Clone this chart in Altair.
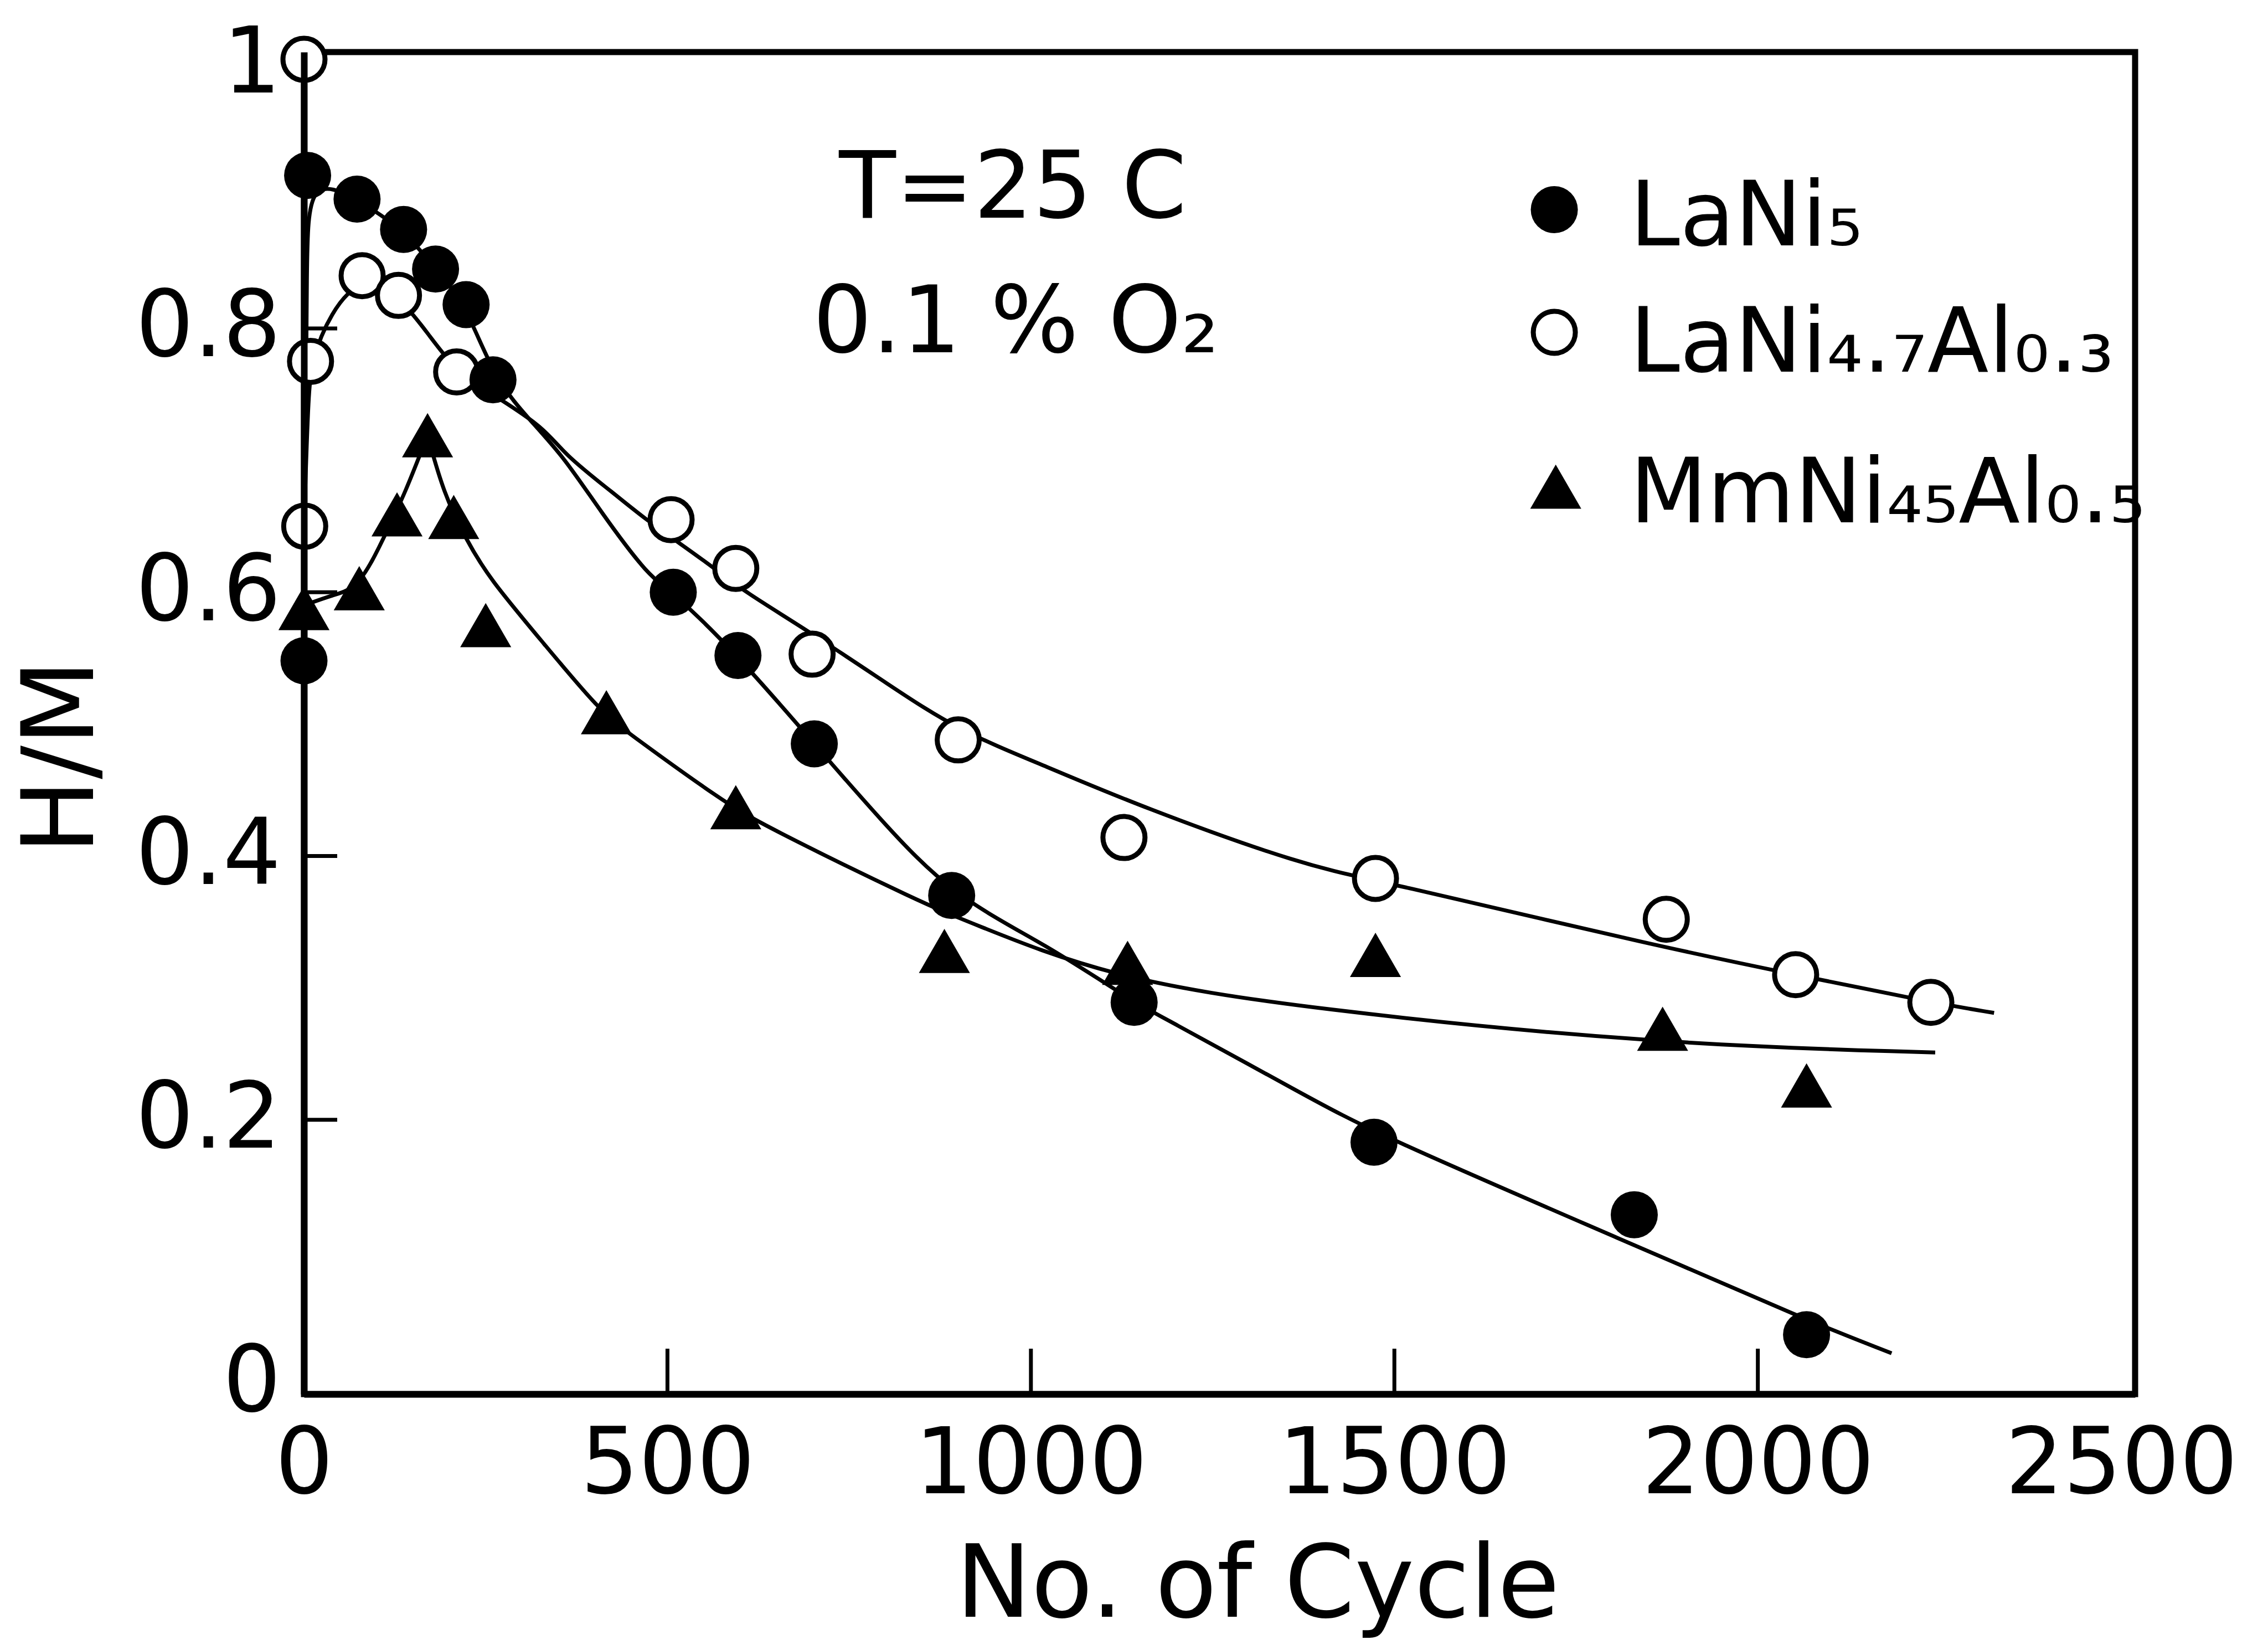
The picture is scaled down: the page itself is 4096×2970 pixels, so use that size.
import altair as alt
import pandas as pd

# ---------------- data ----------------
# measured points
lani5_x = [0, 5, 73, 137, 181, 223, 260, 508, 597, 702, 891, 1142, 1472, 1830, 2067]
lani5_y = [0.548, 0.916, 0.898, 0.875, 0.845, 0.818, 0.761, 0.600, 0.552, 0.485, 0.370, 0.289, 0.183, 0.128, 0.037]

lani47_x = [0, 1, 9, 80, 130, 210, 505, 594, 699, 900, 1128, 1474, 1874, 2052, 2238]
lani47_y = [1.004, 0.650, 0.775, 0.840, 0.825, 0.767, 0.655, 0.618, 0.553, 0.488, 0.414, 0.383, 0.352, 0.310, 0.289]

mmni_x = [0, 76, 128, 170, 206, 250, 416, 594, 881, 1133, 1474, 1869, 2067]
mmni_y = [0.588, 0.603, 0.659, 0.719, 0.657, 0.575, 0.509, 0.437, 0.328, 0.319, 0.325, 0.269, 0.226]

# hand-drawn fitted curves (traced)
lani5_curve_x = [0, 2, 4, 6, 73, 137, 181, 223, 262, 315, 358, 407, 475, 508, 597, 702, 792, 891,
                 1021, 1142, 1174, 1379, 1472, 1826, 2067, 2184]
lani5_curve_y = [0.548, 0.70, 0.85, 0.916, 0.898, 0.875, 0.845, 0.818, 0.761, 0.728, 0.702, 0.662, 0.611,
                 0.600, 0.552, 0.485, 0.428, 0.370, 0.333, 0.289, 0.280, 0.218, 0.190, 0.106, 0.048, 0.023]

lani47_curve_x = [0, 3, 6, 10, 36, 80, 130, 172, 210, 265, 330, 359, 426, 468, 517, 565, 607, 690,
                  804, 900, 1021, 1148, 1379, 1474, 1874, 2052, 2238, 2325]
lani47_curve_y = [0.650, 0.70, 0.745, 0.775, 0.812, 0.840, 0.825, 0.795, 0.767, 0.748, 0.725, 0.704, 0.675,
                  0.656, 0.637, 0.618, 0.600, 0.572, 0.530, 0.495, 0.468, 0.438, 0.392, 0.382,
                  0.330, 0.310, 0.289, 0.281]

mmni_rise_x = [0, 40, 76, 113, 139, 170]
mmni_rise_y = [0.590, 0.598, 0.603, 0.645, 0.675, 0.719]
mmni_fall_x = [170, 192, 223, 254, 330, 407, 449, 575, 629, 855, 915, 1104, 1379, 1869, 2244]
mmni_fall_y = [0.719, 0.675, 0.640, 0.611, 0.561, 0.510, 0.492, 0.442, 0.424, 0.363, 0.350,
               0.308, 0.284, 0.257, 0.251]

# axes
x_ticks = [0, 500, 1000, 1500, 2000, 2500]
y_ticks = [0, 0.2, 0.4, 0.6, 0.8, 1]
x_inner_ticks = [500, 1000, 1500, 2000]
y_inner_ticks = [0.2, 0.4, 0.6, 0.8]

# legend entries
legend_names = ["LaNi₅", "LaNi₄.₇Al₀.₃", "MmNi₄₅Al₀.₅"]
legend_sym_x = [1720, 1720, 1722]
legend_sym_y = [0.890, 0.797, 0.680]
legend_text_x = [1824, 1824, 1824]
legend_text_y = [0.863, 0.767, 0.653]

# annotations
note_text = ["T=25 C", "0.1 % O₂"]
note_x = [736, 700]
note_y = [0.884, 0.782]

# ---------------- layout (0.874 of the reference) ----------------
W, H = 3307, 2423
PAD_L, PAD_T = 549, 94
PAD_R = 4096 - PAD_L - W
PAD_B = 2970 - PAD_T - H
FONT = "DejaVu Sans"

x_scale = alt.Scale(domain=[0, 2519], nice=False, zero=False)
y_scale = alt.Scale(domain=[-0.008, 1.0095], nice=False, zero=False)

x_enc = alt.X(
    "x:Q", scale=x_scale,
    axis=alt.Axis(values=x_ticks, format="d", title="No. of Cycle", grid=False,
                  ticks=False, tickSize=0, domainColor="black", domainWidth=12,
                  labelFontSize=165, labelColor="black", labelPadding=48, labelFlush=False,
                  labelOverlap=False, labelFont=FONT, labelLimit=0,
                  titleFont=FONT, titleFontSize=182, titleFontWeight="normal", titleColor="black",
                  titleX=1722, titleY=401, titleAlign="center", titleBaseline="alphabetic",
                  titleLimit=0, zindex=1),
)
y_enc = alt.Y(
    "y:Q", scale=y_scale,
    axis=alt.Axis(values=y_ticks, format="~g", title="H/M", grid=False,
                  ticks=False, tickSize=0, domainColor="black", domainWidth=12,
                  labelFontSize=165, labelColor="black", labelPadding=42, labelFlush=False,
                  labelOverlap=False, labelFont=FONT, labelLimit=0,
                  titleFont=FONT, titleFontSize=180, titleFontWeight="normal", titleColor="black",
                  titleAngle=270, titleX=-436, titleY=1272, titleAlign="center",
                  titleBaseline="middle", titleLimit=0, zindex=1),
)


def series(xs, ys, seg):
    return pd.DataFrame({"x": xs, "y": ys, "seg": seg, "ord": list(range(len(xs)))})


curves = pd.concat([
    series(lani5_curve_x, lani5_curve_y, "lani5"),
    series(lani47_curve_x, lani47_curve_y, "lani47"),
    series(mmni_rise_x, mmni_rise_y, "mmni_rise"),
    series(mmni_fall_x, mmni_fall_y, "mmni_fall"),
], ignore_index=True)

lines = alt.Chart(curves).mark_line(color="black", strokeWidth=7, interpolate="basis").encode(
    x=x_enc, y=y_enc, detail="seg:N", order="ord:Q")

yticks = alt.Chart(pd.DataFrame({"y": y_inner_ticks})).mark_rule(color="black", strokeWidth=7).encode(
    y=y_enc, x=alt.value(0), x2=alt.value(60))
xticks = alt.Chart(pd.DataFrame({"x": x_inner_ticks})).mark_rule(color="black", strokeWidth=7).encode(
    x=x_enc, y=alt.value(H), y2=alt.value(H - 82))

tri = alt.Chart(pd.DataFrame({"x": mmni_x, "y": mmni_y})).mark_point(
    shape="triangle-up", filled=True, color="black", size=8500, opacity=1).encode(x=x_enc, y=y_enc)
opn = alt.Chart(pd.DataFrame({"x": lani47_x, "y": lani47_y})).mark_point(
    shape="circle", fill="white", stroke="black", strokeWidth=9, size=5776, opacity=1,
    fillOpacity=1).encode(x=x_enc, y=y_enc)
fil = alt.Chart(pd.DataFrame({"x": lani5_x, "y": lani5_y})).mark_point(
    shape="circle", filled=True, color="black", size=7225, opacity=1).encode(x=x_enc, y=y_enc)

# legend symbols
leg_fil = alt.Chart(pd.DataFrame({"x": legend_sym_x[:1], "y": legend_sym_y[:1]})).mark_point(
    shape="circle", filled=True, color="black", size=7225, opacity=1).encode(x=x_enc, y=y_enc)
leg_opn = alt.Chart(pd.DataFrame({"x": legend_sym_x[1:2], "y": legend_sym_y[1:2]})).mark_point(
    shape="circle", fill="white", stroke="black", strokeWidth=9, size=5776, opacity=1,
    fillOpacity=1).encode(x=x_enc, y=y_enc)
leg_tri = alt.Chart(pd.DataFrame({"x": legend_sym_x[2:], "y": legend_sym_y[2:]})).mark_point(
    shape="triangle-up", filled=True, color="black", size=8500, opacity=1).encode(x=x_enc, y=y_enc)

leg_text = alt.Chart(pd.DataFrame({"x": legend_text_x, "y": legend_text_y, "t": legend_names})).mark_text(
    align="left", baseline="alphabetic", fontSize=162, font=FONT, color="black").encode(
    x=x_enc, y=y_enc, text="t:N")

notes = alt.Chart(pd.DataFrame({"x": note_x, "y": note_y, "t": note_text})).mark_text(
    align="left", baseline="alphabetic", fontSize=168, font=FONT, color="black").encode(
    x=x_enc, y=y_enc, text="t:N")

chart = alt.layer(
    lines, yticks, xticks, tri, opn, fil, leg_fil, leg_opn, leg_tri, leg_text, notes
).properties(
    width=W, height=H,
    autosize=alt.AutoSizeParams(type="none"),
    padding={"left": PAD_L, "top": PAD_T, "right": PAD_R, "bottom": PAD_B},
    background="white",
).configure(
    font=FONT
).configure_view(
    stroke="black", strokeWidth=11
)

chart.save("out.html", embed_options={"renderer": "svg", "actions": False})
